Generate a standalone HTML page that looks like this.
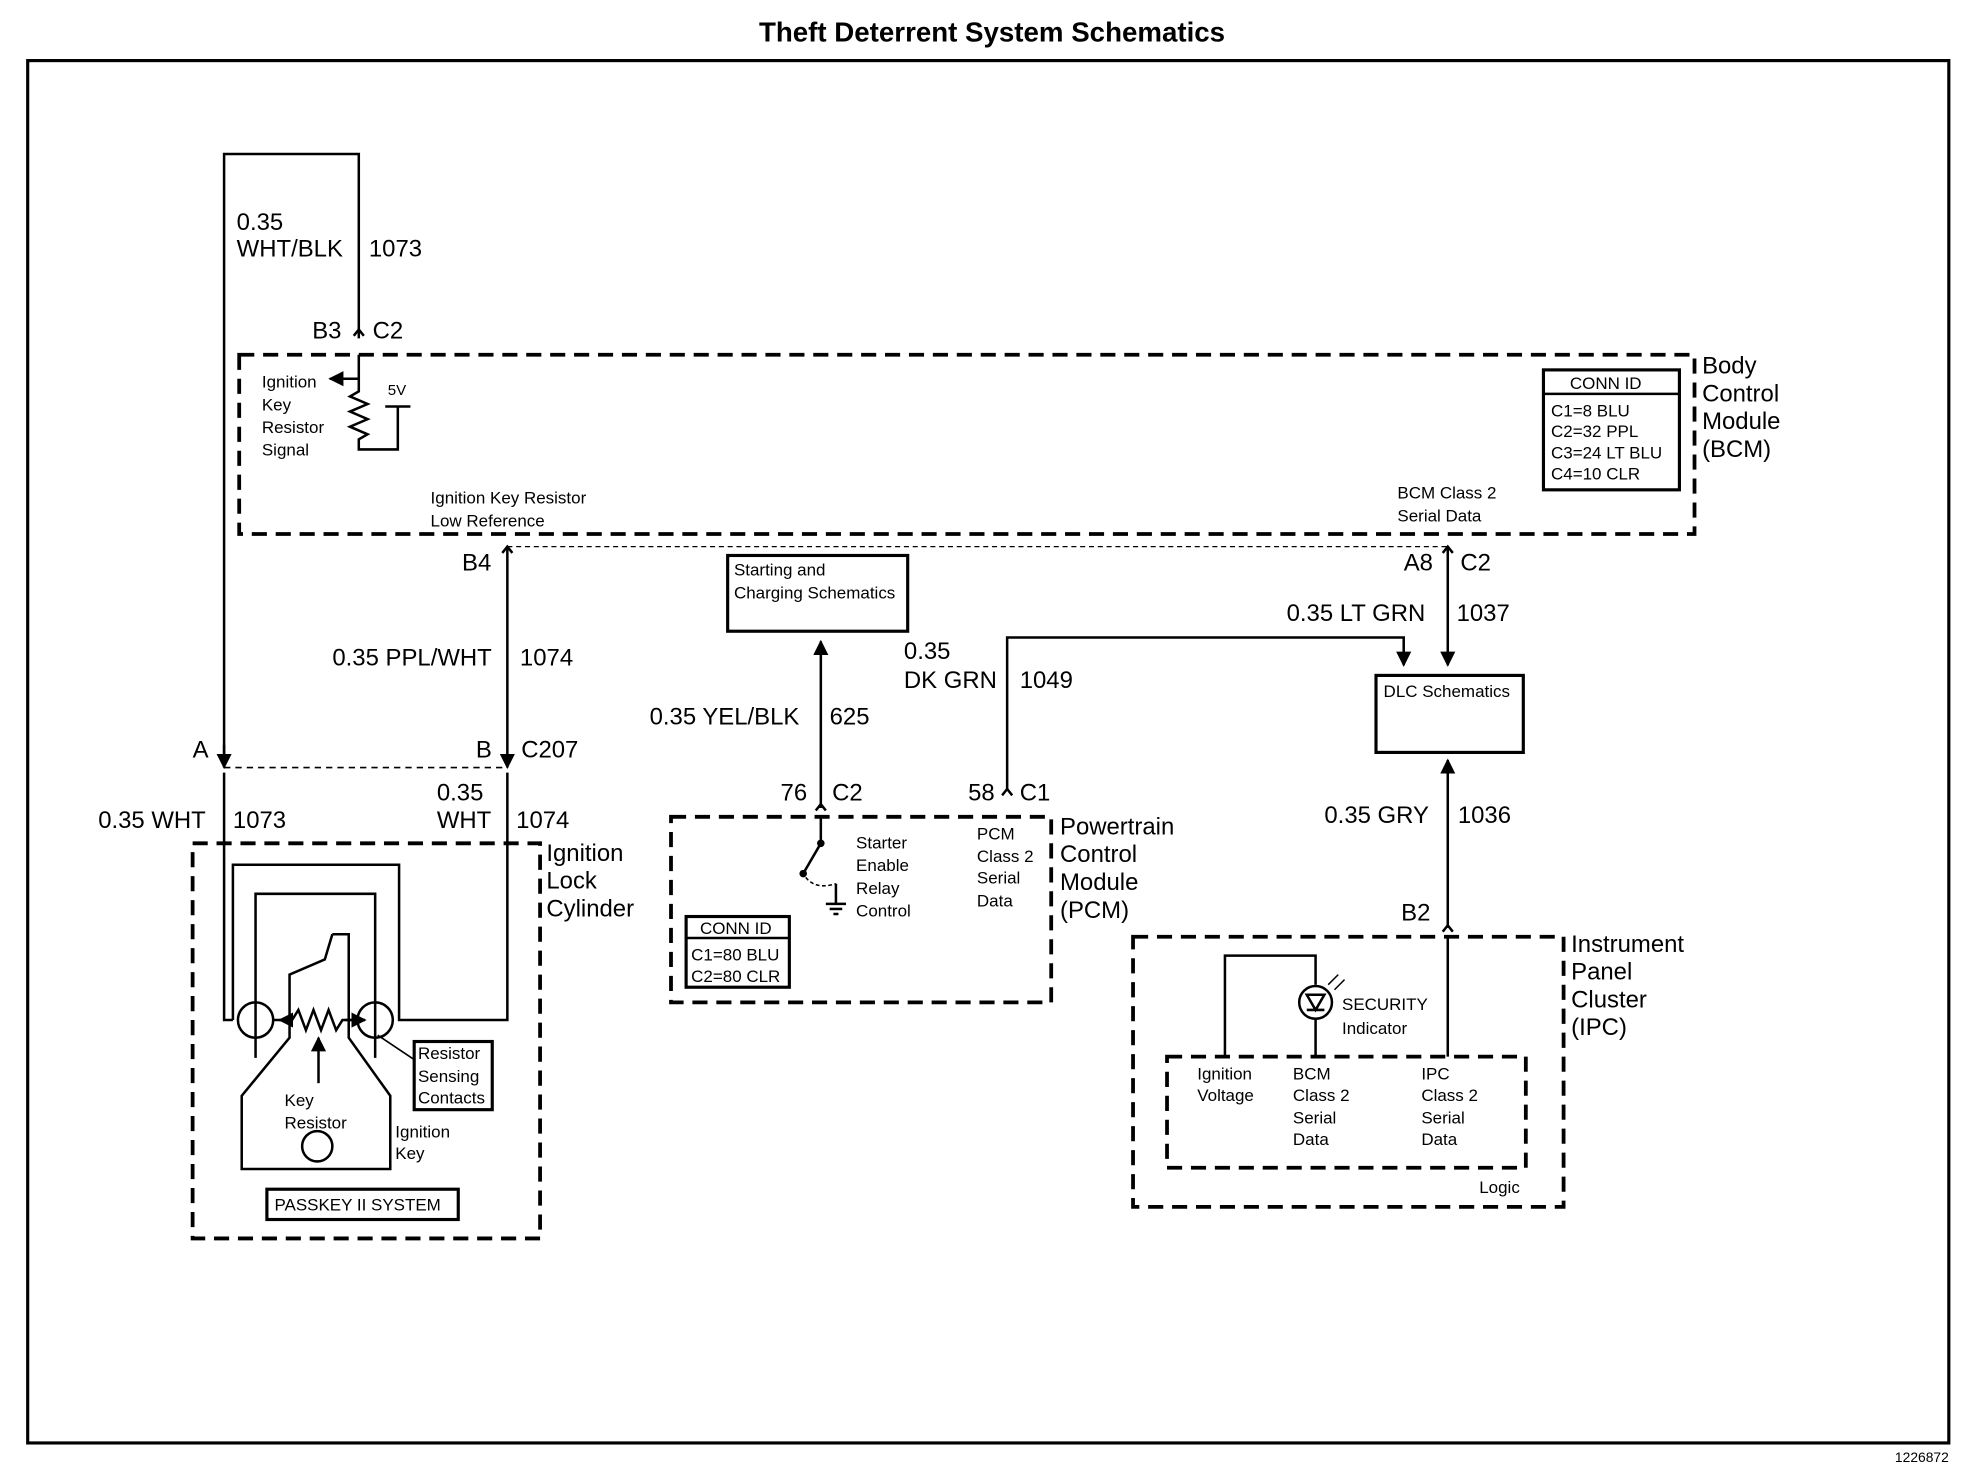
<!DOCTYPE html>
<html><head><meta charset="utf-8"><style>
html,body{margin:0;padding:0;background:#fff}
svg{display:block}
text{font-family:"Liberation Sans",Arial,sans-serif;fill:#000}
.b{font-size:19px}
.s{font-size:13.5px}
.t{font-size:14.5px}
</style></head><body>
<svg width="1974" height="1472" viewBox="0 0 1568 1166" preserveAspectRatio="none" xmlns="http://www.w3.org/2000/svg">
<defs><marker id="ar" viewBox="0 0 10 10" refX="9" refY="5" markerWidth="6" markerHeight="6" orient="auto"><path d="M0,0 L10,5 L0,10 z" fill="#000"/></marker></defs>
<rect width="1568" height="1166" fill="#fff"/>
<text x="788" y="33" text-anchor="middle" font-size="22" font-weight="bold">Theft Deterrent System Schematics</text>
<rect x="22" y="48" width="1526" height="1095" fill="none" stroke="#000" stroke-width="2.5"/>
<text x="1548" y="1158" text-anchor="end" font-size="11">1226872</text>
<g stroke="#000" stroke-width="2" fill="none">
<!-- left loop -->
<polyline points="178,600 178,122 285,122 285,268"/>
<path d="M281,266 l4,-5 l4,5"/>
<!-- BCM box -->
<rect x="190" y="281" width="1156" height="142" stroke-dasharray="12,7" stroke-width="3"/>
<rect x="1226" y="293" width="108" height="95" stroke-width="2.5"/>
<line x1="1226" y1="312" x2="1334" y2="312"/>
<!-- resistor -->
<polyline points="285,281 285,310 278,314 292,320 278,326 292,332 278,338 292,344 285,348 285,356 316,356 316,322"/>
<line x1="306" y1="322" x2="326" y2="322"/>
<line x1="285" y1="300" x2="262" y2="300" marker-end="url(#ar)"/>
<!-- B4 wire -->
<path d="M399,438 l4,-5 l4,5"/>
<line x1="403" y1="433" x2="403" y2="608" marker-end="url(#ar)"/>
<line x1="403" y1="433" x2="1150" y2="433" stroke-width="1" stroke-dasharray="4,3"/>
<line x1="178" y1="608" x2="403" y2="608" stroke-width="1.3" stroke-dasharray="5,4"/>
<line x1="178" y1="590" x2="178" y2="608" marker-end="url(#ar)"/>
<!-- A8 -->
<path d="M1146,438 l4,-5 l4,5"/>
<line x1="1150" y1="433" x2="1150" y2="527" marker-end="url(#ar)"/>
<polyline points="800,625 800,505 1115,505 1115,527" marker-end="url(#ar)"/>
<rect x="1093" y="535" width="117" height="61" stroke-width="2.5"/>
<line x1="1150" y1="735" x2="1150" y2="602" marker-end="url(#ar)"/>
<path d="M1146,738 l4,-5 l4,5"/>
<!-- starting -->
<rect x="578" y="440" width="143" height="60" stroke-width="2.5"/>
<line x1="652" y1="640" x2="652" y2="508" marker-end="url(#ar)"/>
<path d="M648,642 l4,-5 l4,5"/>
<path d="M796,630 l4,-5 l4,5"/>
<!-- PCM -->
<rect x="533" y="647" width="302" height="147" stroke-dasharray="12,7" stroke-width="3"/>
<line x1="652" y1="647" x2="652" y2="668"/>
<line x1="652" y1="668" x2="638" y2="692"/>
<circle cx="652" cy="668" r="2" fill="#000"/>
<circle cx="638" cy="692" r="2" fill="#000"/>
<path d="M640,695 q8,10 24,5" stroke-width="1.2" stroke-dasharray="3,2"/>
<line x1="664" y1="700" x2="664" y2="716"/>
<line x1="656" y1="716" x2="672" y2="716"/><line x1="659" y1="720" x2="669" y2="720"/><line x1="662" y1="724" x2="666" y2="724"/>
<rect x="545" y="726" width="82" height="56" stroke-width="2.5"/>
<line x1="545" y1="743" x2="627" y2="743"/>
<!-- IPC -->
<rect x="900" y="742" width="342" height="214" stroke-dasharray="12,7" stroke-width="3"/>
<rect x="927" y="837" width="285" height="88" stroke-dasharray="12,7" stroke-width="3"/>
<polyline points="973,837 973,757 1045,757 1045,780"/>
<circle cx="1045" cy="794" r="13"/>
<path d="M1038,788 l14,0 l-7,12 z M1038,800 l14,0"/>
<line x1="1045" y1="807" x2="1045" y2="837"/>
<line x1="1150" y1="742" x2="1150" y2="837"/>
<path d="M1055,780 l8,-8 M1060,784 l8,-8" stroke-width="1.2"/>
<!-- ignition lock -->
<rect x="153" y="668" width="276" height="313" stroke-dasharray="12,7" stroke-width="3"/>
<polyline points="185,808 185,685 317,685 317,808 403,808 403,612"/>
<polyline points="185,808 178,808 178,612"/>
<polyline points="203,838 203,708 298,708 298,838"/>
<circle cx="203" cy="808" r="14"/>
<circle cx="298" cy="808" r="14"/>
<polyline points="217,808 232,808 237,800 243,816 249,800 255,816 261,800 267,816 272,808 284,808"/>
<polyline points="232,808 222,808" marker-end="url(#ar)"/>
<polyline points="274,808 290,808" marker-end="url(#ar)"/>
<line x1="253" y1="858" x2="253" y2="822" marker-end="url(#ar)"/>
<polyline points="264,740 277,740 277,822 310,868 310,926 192,926 192,868 230,822 230,772 258,760 264,740"/>
<circle cx="252" cy="908" r="12"/>
<line x1="300" y1="820" x2="330" y2="840" stroke-width="1.3"/>
<rect x="329" y="825" width="62" height="54" stroke-width="2.5"/>
<rect x="212" y="942" width="152" height="24" stroke-width="2.5"/>
</g>
<g class="b">
<text x="188" y="182">0.35</text><text x="188" y="203">WHT/BLK</text><text x="293" y="203">1073</text>
<text x="248" y="268">B3</text><text x="296" y="268">C2</text>
<text x="1352" y="296">Body</text><text x="1352" y="318">Control</text><text x="1352" y="340">Module</text><text x="1352" y="362">(BCM)</text>
<text x="367" y="452">B4</text>
<text x="264" y="527">0.35 PPL/WHT</text><text x="413" y="527">1074</text>
<text x="1115" y="452">A8</text><text x="1160" y="452">C2</text>
<text x="1022" y="492">0.35 LT GRN</text><text x="1157" y="492">1037</text>
<text x="718" y="522">0.35</text><text x="718" y="545">DK GRN</text><text x="810" y="545">1049</text>
<text x="516" y="574">0.35 YEL/BLK</text><text x="659" y="574">625</text>
<text x="153" y="600">A</text><text x="378" y="600">B</text><text x="414" y="600">C207</text>
<text x="620" y="634">76</text><text x="661" y="634">C2</text>
<text x="769" y="634">58</text><text x="810" y="634">C1</text>
<text x="78" y="656">0.35 WHT</text><text x="185" y="656">1073</text>
<text x="347" y="634">0.35</text><text x="347" y="656">WHT</text><text x="410" y="656">1074</text>
<text x="1052" y="652">0.35 GRY</text><text x="1158" y="652">1036</text>
<text x="1113" y="729">B2</text>
<text x="842" y="661">Powertrain</text><text x="842" y="683">Control</text><text x="842" y="705">Module</text><text x="842" y="727">(PCM)</text>
<text x="434" y="682">Ignition</text><text x="434" y="704">Lock</text><text x="434" y="726">Cylinder</text>
<text x="1248" y="754">Instrument</text><text x="1248" y="776">Panel</text><text x="1248" y="798">Cluster</text><text x="1248" y="820">(IPC)</text>
</g>
<g class="s">
<text x="208" y="307">Ignition</text><text x="208" y="325">Key</text><text x="208" y="343">Resistor</text><text x="208" y="361">Signal</text>
<text x="308" y="313" font-size="12">5V</text>
<text x="342" y="399">Ignition Key Resistor</text><text x="342" y="417">Low Reference</text>
<text x="1110" y="395">BCM Class 2</text><text x="1110" y="413">Serial Data</text>
<text x="1247" y="308">CONN ID</text>
<text x="1232" y="330">C1=8 BLU</text><text x="1232" y="346">C2=32 PPL</text><text x="1232" y="363">C3=24 LT BLU</text><text x="1232" y="380">C4=10 CLR</text>
<text x="583" y="456">Starting and</text><text x="583" y="474">Charging Schematics</text>
<text x="1099" y="552">DLC Schematics</text>
<text x="680" y="672">Starter</text><text x="680" y="690">Enable</text><text x="680" y="708">Relay</text><text x="680" y="726">Control</text>
<text x="776" y="665">PCM</text><text x="776" y="683">Class 2</text><text x="776" y="700">Serial</text><text x="776" y="718">Data</text>
<text x="556" y="740">CONN ID</text><text x="549" y="761">C1=80 BLU</text><text x="549" y="778">C2=80 CLR</text>
<text x="1066" y="800">SECURITY</text><text x="1066" y="819">Indicator</text>
<text x="951" y="855">Ignition</text><text x="951" y="872">Voltage</text>
<text x="1027" y="855">BCM</text><text x="1027" y="872">Class 2</text><text x="1027" y="890">Serial</text><text x="1027" y="907">Data</text>
<text x="1129" y="855">IPC</text><text x="1129" y="872">Class 2</text><text x="1129" y="890">Serial</text><text x="1129" y="907">Data</text>
<text x="1175" y="945">Logic</text>
<text x="332" y="839">Resistor</text><text x="332" y="857">Sensing</text><text x="332" y="874">Contacts</text>
<text x="226" y="876">Key</text><text x="226" y="894">Resistor</text>
<text x="314" y="901">Ignition</text><text x="314" y="918">Key</text>
<text x="218" y="959">PASSKEY II SYSTEM</text>
</g>
</svg>
</body></html>
